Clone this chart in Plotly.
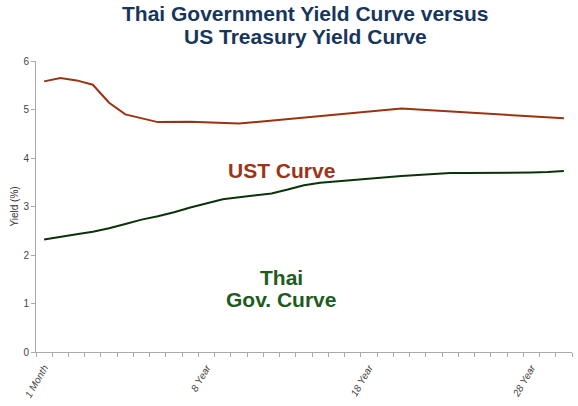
import plotly.graph_objects as go

tenors = ["1 Month", "3 Month", "6 Month"] + [f"{i} Year" for i in range(1, 31)]
tick_labels = ["1 Month", "8 Year", "18 Year", "28 Year"]

thai_yield = [2.32, 2.38, 2.43, 2.48, 2.55, 2.64, 2.73, 2.80, 2.88, 2.98,
              3.06, 3.15, 3.19, 3.23, 3.27, 3.35, 3.44, 3.49, 3.52, 3.55,
              3.58, 3.60, 3.63, 3.65, 3.67, 3.69, 3.69, 3.69, 3.69, 3.70,
              3.70, 3.71, 3.73]

ust_tenors = ["1 Month", "3 Month", "6 Month", "1 Year", "2 Year", "3 Year",
              "5 Year", "7 Year", "10 Year", "20 Year", "30 Year"]
ust_values = [5.58, 5.65, 5.60, 5.51, 5.14, 4.90, 4.74, 4.75, 4.71, 5.02, 4.82]

ust_map = dict(zip(ust_tenors, ust_values))
ust_yield = [ust_map.get(t) for t in tenors]

fig = go.Figure()
fig.add_trace(go.Scatter(x=tenors, y=ust_yield, mode="lines", connectgaps=True,
                         line=dict(color="#993311", width=2), name="UST"))
fig.add_trace(go.Scatter(x=tenors, y=thai_yield, mode="lines",
                         line=dict(color="#0a330a", width=2), name="Thai"))

ticktext = [t if t in tick_labels else "" for t in tenors]
font = "Liberation Sans, Arial"

fig.update_layout(
    width=578, height=406,
    margin=dict(l=36, r=6, t=61, b=54),
    paper_bgcolor="white", plot_bgcolor="white",
    showlegend=False,
    xaxis=dict(type="category", categoryorder="array", categoryarray=tenors,
               range=[-0.5, 32.5], tickmode="array", tickvals=tenors, ticktext=ticktext,
               tickson="boundaries", ticks="outside", ticklen=4, tickcolor="#aaaaaa",
               showline=True, linecolor="#aaaaaa", linewidth=1, showgrid=False,
               tickangle=-60, automargin=False, ticklabelstandoff=5,
               tickfont=dict(family=font, size=10, color="#444444", style="italic")),
    yaxis=dict(range=[0, 6], dtick=1, ticks="outside", ticklen=4, tickcolor="#aaaaaa",
               showline=True, linecolor="#aaaaaa", linewidth=1, showgrid=False, zeroline=False,
               automargin=False,
               tickfont=dict(family="Liberation Sans Narrow, Liberation Sans, Arial", size=10, color="#444444"),
               title=dict(text="Yield (%)", standoff=2,
                          font=dict(family=font, size=10, color="#333333"))),
    annotations=[
        dict(text="<b>Thai Government Yield Curve versus</b>",
             x=0.502, y=1.162, xref="paper", yref="paper", xanchor="center", yanchor="middle",
             showarrow=False, font=dict(family=font, size=21, color="#17365d")),
        dict(text="<b>US Treasury Yield Curve</b>",
             x=0.502, y=1.085, xref="paper", yref="paper", xanchor="center", yanchor="middle",
             showarrow=False, font=dict(family=font, size=21, color="#17365d")),
        dict(text="<b>UST Curve</b>", x=14.6, y=3.75, xref="x", yref="y", showarrow=False,
             font=dict(family=font, size=21, color="#9c3417")),
        dict(text="<b>Thai</b>", x=14.6, y=1.53, xref="x", yref="y", showarrow=False,
             font=dict(family=font, size=21, color="#1c5c1c")),
        dict(text="<b>Gov. Curve</b>", x=14.6, y=1.09, xref="x", yref="y", showarrow=False,
             font=dict(family=font, size=21, color="#1c5c1c")),
    ],
)

fig.write_html("out.html", config={"displayModeBar": False},
               post_script="document.body.style.margin='0';")
